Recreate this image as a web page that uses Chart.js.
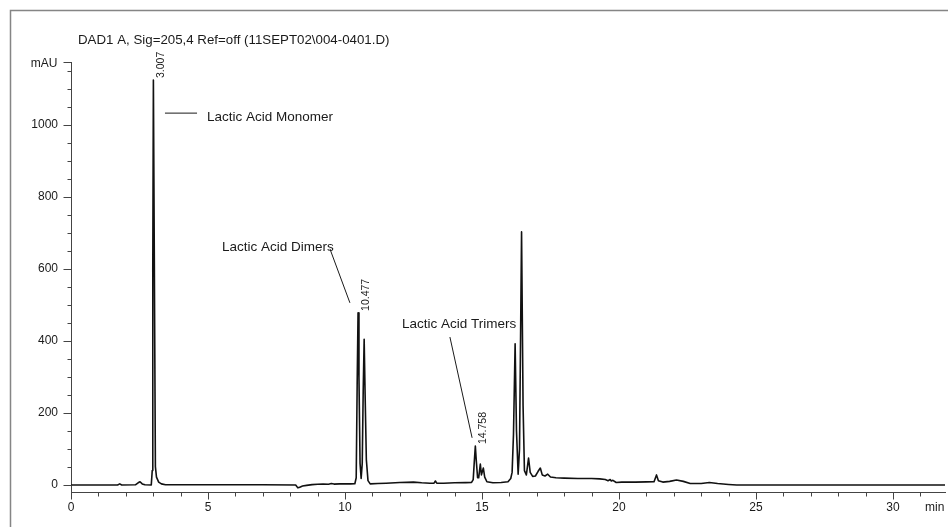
<!DOCTYPE html>
<html>
<head>
<meta charset="utf-8">
<script src="https://cdn.jsdelivr.net/npm/chart.js@4.4.1/dist/chart.umd.min.js"></script>
<style>
  html, body { margin: 0; padding: 0; background: #ffffff; }
  #wrap { width: 948px; height: 527px; position: relative; }
</style>
</head>
<body>
<div id="wrap"><canvas id="c" width="948" height="527"></canvas></div>
<script>
// ---- data (retention time in min, signal in mAU) ----
const times = [
  0, 1.7, 1.78, 1.85, 2.35, 2.45, 2.52, 2.6, 2.7, 2.93,
  2.965, 2.985, 3.007, 3.04, 3.08, 3.12, 3.2, 3.3, 3.45, 5.0,
  7.0, 8.2, 8.28, 8.35, 8.45, 8.6, 8.8, 9.0, 9.2, 9.4,
  9.5, 9.6, 9.8, 10.0, 10.2, 10.36, 10.41, 10.445, 10.477, 10.51,
  10.55, 10.59, 10.63, 10.665, 10.70, 10.735, 10.78, 10.84, 10.92, 11.2,
  11.5, 12.0, 12.5, 12.8, 13.1, 13.25, 13.3, 13.35, 13.6, 14.0,
  14.4, 14.62, 14.68, 14.72, 14.758, 14.79, 14.84, 14.88, 14.94, 14.98,
  15.0, 15.05, 15.1, 15.18, 15.4, 15.7, 15.95, 16.05, 16.1, 16.15,
  16.21, 16.26, 16.32, 16.37, 16.445, 16.5, 16.55, 16.62, 16.7, 16.76,
  16.85, 16.95, 17.05, 17.13, 17.2, 17.3, 17.4, 17.5, 17.7, 18.0,
  18.5, 19.0, 19.3, 19.5, 19.6, 19.68, 19.72, 19.78, 19.9, 20.1,
  20.6, 21.0, 21.28, 21.37, 21.44, 21.6, 21.85, 22.1, 22.35, 22.6,
  23.0, 23.3, 23.6, 24.0, 24.3, 31.9
];
const signal = [
  0, 0, 3, 0, 0.5, 6, 9, 3, 0.5, 0,
  40, 600, 1125, 640, 51, 22, 8, 3, 0.5, 0.5,
  0.5, 0, -8, -6, -3, -1, 1, 2, 2.5, 2,
  4, 2.5, 3, 3, 3, 3.5, 20, 280, 478, 300,
  60, 18, 60, 260, 405, 250, 70, 12, 3, 4,
  5, 7, 8, 6, 5, 5, 11, 5, 5, 6,
  6.5, 7, 15, 65, 108, 70, 20, 20, 58, 28,
  28, 47, 22, 9, 6, 7, 9, 18, 35, 140,
  392, 150, 30, 100, 703, 220, 40, 28, 75, 35,
  24, 25, 38, 47, 28, 25, 30, 22, 20, 19,
  18, 18, 17, 15, 12, 15, 11, 13, 7, 8,
  8, 8.5, 9, 28, 12, 8, 10, 14, 10, 4,
  4, 7, 4, 1.5, 0, 0
];
const xRange = [0, 31.9];
const yRange = [-19.5, 1175];
const yMajorTicks = [0, 200, 400, 600, 800, 1000];
const xMajorTicks = [0, 5, 10, 15, 20, 25, 30];
const titleText = 'DAD1 A, Sig=205,4 Ref=off (11SEPT02\\004-0401.D)';
const yUnit = 'mAU';
const xUnit = 'min';
// peak retention-time labels
const peakTimes = [3.007, 10.477, 14.758];
const peakHeights = [1125, 478, 108];
const peakLabels = ['3.007', '10.477', '14.758'];
// compound annotations: text anchor and leader line, in data units (min, mAU)
const noteTexts = ['Lactic Acid Monomer', 'Lactic Acid Dimers', 'Lactic Acid Trimers'];
const noteTextAt = [[4.96, 1022], [5.51, 661], [12.08, 447]];
const noteLineFrom = [[3.43, 1033], [9.45, 656], [13.83, 411]];
const noteLineTo = [[4.60, 1033], [10.18, 506], [14.64, 131]];

const points = times.map((t, i) => ({ x: t, y: signal[i] }));
const FONT = '"Liberation Sans", Arial, Helvetica, sans-serif';

const decor = {
  id: 'decor',
  afterDraw(chart) {
    const ctx = chart.ctx;
    const xs = chart.scales.x, ys = chart.scales.y;
    const ca = chart.chartArea;
    ctx.save();
    // outer frame
    ctx.strokeStyle = '#858585';
    ctx.lineWidth = 1.5;
    ctx.beginPath();
    ctx.moveTo(10.5, 527); ctx.lineTo(10.5, 10.5); ctx.lineTo(948, 10.5);
    ctx.stroke();

    // title
    ctx.fillStyle = '#1a1a1a';
    ctx.font = '13.3px ' + FONT;
    ctx.textAlign = 'left';
    ctx.textBaseline = 'middle';
    ctx.fillText(titleText, 78, 40);

    // ticks
    ctx.strokeStyle = '#444';
    ctx.lineWidth = 1;
    const axX = Math.round(ca.left) + 0.5;
    ys.ticks.forEach(tk => {
      const py = Math.round(ys.getPixelForValue(tk.value)) + 0.5;
      const len = yMajorTicks.includes(tk.value) ? 8 : 4;
      ctx.beginPath(); ctx.moveTo(axX - len, py); ctx.lineTo(axX, py); ctx.stroke();
    });
    const topY = Math.round(ys.getPixelForValue(yRange[1])) + 0.5;
    ctx.beginPath(); ctx.moveTo(axX - 8, topY); ctx.lineTo(axX, topY); ctx.stroke();
    const axY = Math.round(ca.bottom) + 0.5;
    xs.ticks.forEach(tk => {
      const px = Math.round(xs.getPixelForValue(tk.value)) + 0.5;
      const len = xMajorTicks.includes(tk.value) ? 7 : 4;
      ctx.beginPath(); ctx.moveTo(px, axY); ctx.lineTo(px, axY + len); ctx.stroke();
    });

    // unit labels
    ctx.fillStyle = '#1a1a1a';
    ctx.font = '12px ' + FONT;
    ctx.textAlign = 'right';
    ctx.textBaseline = 'middle';
    ctx.fillText(yUnit, axX - 14, topY + 1);
    ctx.textAlign = 'left';
    ctx.fillText(xUnit, 925, 508);

    // peak labels (rotated)
    ctx.font = '10.5px ' + FONT;
    peakTimes.forEach((t, i) => {
      const px = xs.getPixelForValue(t) + 8;
      const py = ys.getPixelForValue(peakHeights[i]) - 2;
      ctx.save();
      ctx.translate(px, py);
      ctx.rotate(-Math.PI / 2);
      ctx.textAlign = 'left';
      ctx.textBaseline = 'middle';
      ctx.fillText(peakLabels[i], 0, 0);
      ctx.restore();
    });

    // compound annotations
    ctx.font = '13.5px ' + FONT;
    ctx.strokeStyle = '#1a1a1a';
    ctx.lineWidth = 1;
    noteTexts.forEach((txt, i) => {
      ctx.textAlign = 'left';
      ctx.textBaseline = 'middle';
      ctx.fillText(txt, xs.getPixelForValue(noteTextAt[i][0]), ys.getPixelForValue(noteTextAt[i][1]));
      ctx.beginPath();
      ctx.moveTo(xs.getPixelForValue(noteLineFrom[i][0]), ys.getPixelForValue(noteLineFrom[i][1]));
      ctx.lineTo(xs.getPixelForValue(noteLineTo[i][0]), ys.getPixelForValue(noteLineTo[i][1]));
      ctx.stroke();
    });
    ctx.restore();
  }
};

new Chart(document.getElementById('c'), {
  type: 'line',
  data: {
    datasets: [{
      data: points,
      borderColor: '#111111',
      borderWidth: 1.6,
      pointRadius: 0,
      tension: 0,
      fill: false,
      borderJoinStyle: 'round'
    }]
  },
  options: {
    responsive: false,
    animation: false,
    events: [],
    layout: { padding: { left: 10, top: 62, right: 3, bottom: 0 } },
    plugins: { legend: { display: false }, tooltip: { enabled: false }, title: { display: false } },
    scales: {
      x: {
        type: 'linear',
        min: xRange[0], max: xRange[1],
        afterFit: s => { s.height = 35; },
        border: { display: true, color: '#444', width: 1 },
        grid: { display: true, drawOnChartArea: false, drawTicks: true, tickLength: 7, tickColor: 'rgba(0,0,0,0)' },
        ticks: {
          stepSize: 1, includeBounds: false, autoSkip: false, maxRotation: 0, padding: 1,
          color: '#1a1a1a', font: { family: FONT, size: 12 },
          callback: v => (xMajorTicks.includes(v) ? String(v) : '')
        }
      },
      y: {
        type: 'linear',
        min: yRange[0], max: yRange[1],
        afterFit: s => { s.width = 61; },
        border: { display: true, color: '#444', width: 1 },
        grid: { display: true, drawOnChartArea: false, drawTicks: true, tickLength: 8, tickColor: 'rgba(0,0,0,0)' },
        ticks: {
          stepSize: 50, includeBounds: false, autoSkip: false, padding: 5,
          color: '#1a1a1a', font: { family: FONT, size: 12 },
          callback: v => (yMajorTicks.includes(v) ? String(v) : '')
        }
      }
    }
  },
  plugins: [decor]
});
</script>
</body>
</html>
